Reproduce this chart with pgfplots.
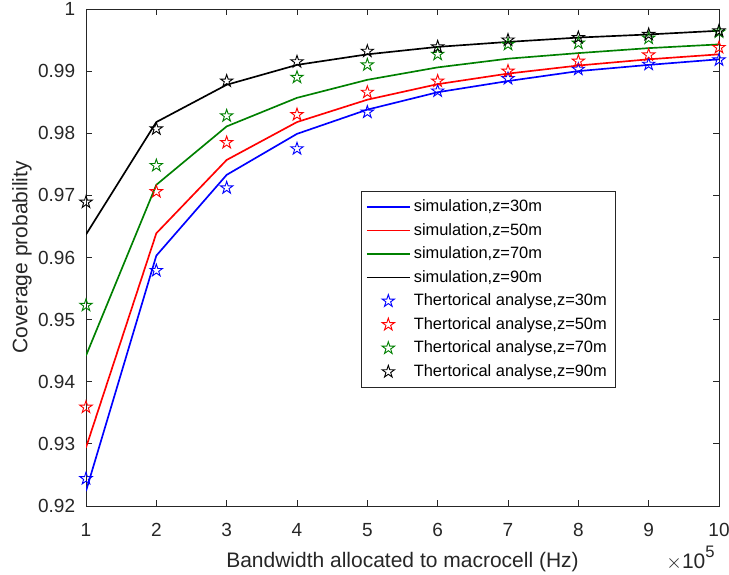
\documentclass[border=0pt]{standalone}
\usepackage{fontspec}
\setmainfont{Liberation Sans}
\usepackage{pgfplots}
\pgfplotsset{compat=1.18}

% MATLAB-style outlined pentagram
\pgfdeclareplotmark{pentagram}{%
  \pgfpathmoveto{\pgfpointpolar{90}{\pgfplotmarksize}}%
  \pgfpathlineto{\pgfpointpolar{126}{0.382\pgfplotmarksize}}%
  \pgfpathlineto{\pgfpointpolar{162}{\pgfplotmarksize}}%
  \pgfpathlineto{\pgfpointpolar{198}{0.382\pgfplotmarksize}}%
  \pgfpathlineto{\pgfpointpolar{234}{\pgfplotmarksize}}%
  \pgfpathlineto{\pgfpointpolar{270}{0.382\pgfplotmarksize}}%
  \pgfpathlineto{\pgfpointpolar{306}{\pgfplotmarksize}}%
  \pgfpathlineto{\pgfpointpolar{342}{0.382\pgfplotmarksize}}%
  \pgfpathlineto{\pgfpointpolar{18}{\pgfplotmarksize}}%
  \pgfpathlineto{\pgfpointpolar{54}{0.382\pgfplotmarksize}}%
  \pgfpathclose\pgfusepathqstroke}

\definecolor{mgreen}{rgb}{0,0.5,0}
\definecolor{axgray}{rgb}{0.15,0.15,0.15}

\tikzset{
  simline/.style={line width=1pt},
  theo/.style={only marks,mark=pentagram,mark size=3.9pt,line width=0.55pt}
}

\begin{document}
\begin{tikzpicture}
\begin{axis}[
  name=ax,
  scale only axis,
  width=379.8pt, height=298.2pt,
  xmin=1, xmax=10, ymin=0.92, ymax=1,
  xtick={1,2,3,4,5,6,7,8,9,10},
  ytick={0.92,0.93,0.94,0.95,0.96,0.97,0.98,0.99,1},
  yticklabels={0.92,0.93,0.94,0.95,0.96,0.97,0.98,0.99,1},
  minor tick num=0,
  tick align=inside,
  major tick length=3.6pt,
  axis line style={axgray,line width=0.5pt},
  every tick/.style={axgray,line width=0.5pt},
  tick label style={font=\fontsize{11.4}{13}\selectfont,text=axgray},
  /pgf/number format/assume math mode=true,
  xticklabel style={yshift=-7pt},
  yticklabel style={xshift=-3pt},
  label style={font=\fontsize{12.6}{14}\selectfont,text=axgray},
  xlabel={Bandwidth allocated to macrocell (Hz)},
  ylabel={Coverage probability},
  xlabel style={yshift=-2.6pt},
  ylabel style={yshift=-3pt},
  legend cell align=left,
  legend image code/.code={\draw[mark repeat=2,mark phase=2,#1] plot coordinates {(0cm,0cm) (0.45cm,0cm) (0.9cm,0cm)};},
  legend style={at={(rel axis cs:0.434,0.634)},anchor=north west,
    font=\fontsize{9.85}{11.5}\selectfont,draw=axgray,line width=0.5pt,
    row sep=1.5pt,inner xsep=3pt,inner ysep=3pt},
]
\addplot[simline,blue] coordinates {
  (1,0.9224) (2,0.9603) (3,0.9733) (4,0.9799) (5,0.9838)
  (6,0.9866) (7,0.9884) (8,0.9900) (9,0.9910) (10,0.9919)
};
\addlegendentry{simulation,z=30m}
\addplot[simline,red] coordinates {
  (1,0.9294) (2,0.9639) (3,0.9757) (4,0.9818) (5,0.9854)
  (6,0.9879) (7,0.9896) (8,0.9909) (9,0.9919) (10,0.9927)
};
\addlegendentry{simulation,z=50m}
\addplot[simline,mgreen] coordinates {
  (1,0.9442) (2,0.9717) (3,0.9811) (4,0.9857) (5,0.9886)
  (6,0.9906) (7,0.9920) (8,0.9929) (9,0.9937) (10,0.9943)
};
\addlegendentry{simulation,z=70m}
\addplot[simline,black] coordinates {
  (1,0.9637) (2,0.9818) (3,0.9878) (4,0.9910) (5,0.9927)
  (6,0.9939) (7,0.9947) (8,0.9954) (9,0.9959) (10,0.9965)
};
\addlegendentry{simulation,z=90m}
\addplot[theo,blue] coordinates {
  (1,0.9244) (2,0.9579) (3,0.9712) (4,0.9775) (5,0.9834)
  (6,0.9868) (7,0.9888) (8,0.9903) (9,0.9911) (10,0.9918)
};
\addlegendentry{Thertorical analyse,z=30m}
\addplot[theo,red] coordinates {
  (1,0.9359) (2,0.9706) (3,0.9785) (4,0.9830) (5,0.9866)
  (6,0.9884) (7,0.9900) (8,0.9916) (9,0.9926) (10,0.9938)
};
\addlegendentry{Thertorical analyse,z=50m}
\addplot[theo,mgreen] coordinates {
  (1,0.9523) (2,0.9748) (3,0.9828) (4,0.9890) (5,0.9910)
  (6,0.9927) (7,0.9943) (8,0.9945) (9,0.9953) (10,0.9963)
};
\addlegendentry{Thertorical analyse,z=70m}
\addplot[theo,black] coordinates {
  (1,0.9689) (2,0.9807) (3,0.9884) (4,0.9915) (5,0.9932)
  (6,0.9939) (7,0.9950) (8,0.9954) (9,0.9959) (10,0.9965)
};
\addlegendentry{Thertorical analyse,z=90m}
\end{axis}
\node[anchor=east,text=axgray,font=\fontsize{12.6}{14}\selectfont,inner sep=0pt]
  at ([xshift=-2.4pt,yshift=-31.2pt]ax.south east)
  {$\times$10\raisebox{0.5em}{\fontsize{10}{11}\selectfont 5}};
\pgfresetboundingbox
\path ([xshift=-51.6pt,yshift=-41.4pt]ax.south west) rectangle ([xshift=6pt,yshift=5.4pt]ax.north east);
\end{tikzpicture}
\end{document}
